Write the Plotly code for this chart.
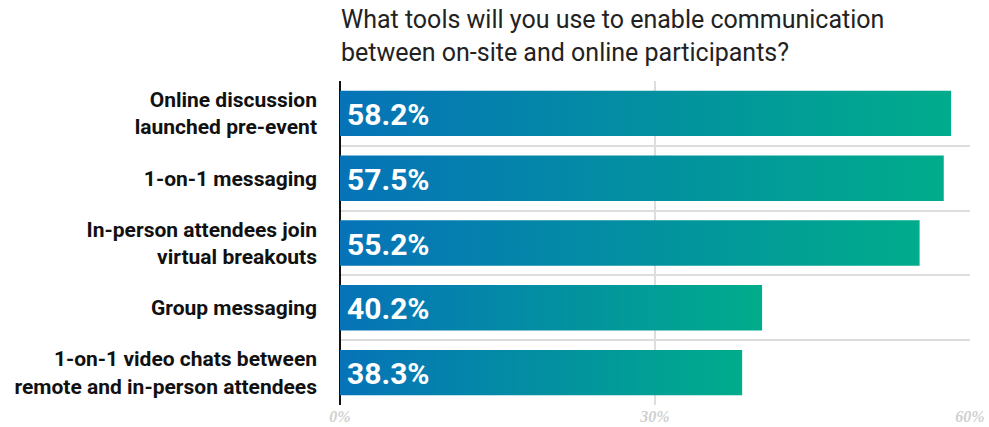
import plotly.graph_objects as go

# Survey responses, top to bottom
categories = [
    "Online discussion<br>launched pre-event",
    "1-on-1 messaging",
    "In-person attendees join<br>virtual breakouts",
    "Group messaging",
    "1-on-1 video chats between<br>remote and in-person attendees",
]
values = [58.2, 57.5, 55.2, 40.2, 38.3]
x_ticks = [0, 30, 60]
x_tick_labels = ["0%", "30%", "60%"]

title_text = ("What tools will you use to enable communication<br>"
              "between on-site and online participants?")

BAR_HALF = 0.35
gradient = [[0, "#0673b8"], [1, "#00ac8b"]]

fig = go.Figure()

# Each bar is a filled rectangle so it can carry a left-to-right gradient
for i, (cat, v) in enumerate(zip(categories, values)):
    fig.add_trace(go.Scatter(
        x=[0, v, v, 0, 0],
        y=[i - BAR_HALF, i - BAR_HALF, i + BAR_HALF, i + BAR_HALF, i - BAR_HALF],
        mode="lines",
        line=dict(width=0),
        fill="toself",
        fillgradient=dict(type="horizontal", colorscale=gradient),
        hoverinfo="skip",
        showlegend=False,
    ))
    fig.add_annotation(
        x=0, y=i, xref="x", yref="y",
        text=f"{v:.1f}%",
        showarrow=False,
        xanchor="left", yanchor="middle",
        xshift=5, yshift=-1,
        font=dict(family="Roboto", size=30, color="white", weight="bold"),
    )

# Question heading above the plot
fig.add_annotation(
    x=0, y=1, xref="paper", yref="paper",
    text=title_text,
    showarrow=False,
    xanchor="left", yanchor="bottom",
    align="left",
    xshift=-1, yshift=12,
    font=dict(family="Roboto", size=25, color="#222222"),
)

fig.update_layout(
    width=989, height=427,
    margin=dict(l=340, r=19, t=81, b=22),
    paper_bgcolor="white",
    plot_bgcolor="white",
    xaxis=dict(
        range=[0, 60],
        tickvals=x_ticks,
        ticktext=x_tick_labels,
        showgrid=True, gridcolor="#dddddd", gridwidth=2,
        zeroline=True, zerolinecolor="#111111", zerolinewidth=2,
        showline=False,
        ticks="",
        ticklabelstandoff=0,
        automargin=False,
        tickfont=dict(family="Liberation Serif, DejaVu Serif", size=16,
                      color="#d0d0d0", style="italic", weight="bold"),
        fixedrange=True,
        layer="above traces",
    ),
    yaxis=dict(
        range=[4.5, -0.5],
        tickvals=list(range(len(categories))),
        ticktext=categories,
        showgrid=False,
        zeroline=False,
        ticks="",
        ticklabelstandoff=22,
        automargin=False,
        tickfont=dict(family="Roboto", size=21, color="#111111", weight="bold"),
        minor=dict(
            tickvals=[k - 0.5 for k in range(len(categories) + 1)],
            showgrid=True, gridcolor="#dddddd", gridwidth=2,
            ticks="",
        ),
        fixedrange=True,
    ),
)

fig.write_html("out.html")
